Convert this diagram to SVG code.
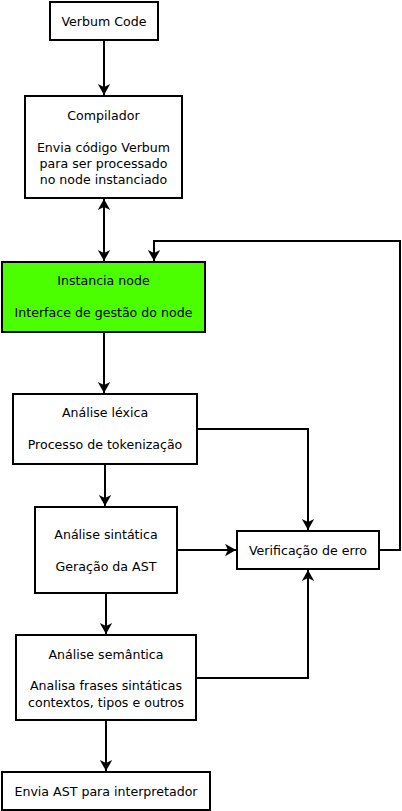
<svg xmlns="http://www.w3.org/2000/svg" width="402" height="811" viewBox="0 0 402 811">
<style>
.box{fill:#fff;stroke:#000;stroke-width:2}
.green{fill:#4cff00}
text{font-family:"DejaVu Sans",sans-serif;font-size:12.6px;fill:#000;text-anchor:middle}
.c{fill:none;stroke:#000;stroke-width:2}
</style>
<defs>
<marker id="arr" markerUnits="userSpaceOnUse" markerWidth="14" markerHeight="14" viewBox="0 0 14 14" refX="11" refY="7" orient="auto-start-reverse">
<path d="M0,0.8 L11,7 L0,13.2 L3,7 z" fill="#000"/>
</marker>
</defs>
<rect width="402" height="811" fill="#fff"/>
<g id="connectors">
<path class="c" d="M104,40 V95" marker-end="url(#arr)"/>
<path class="c" d="M104,199 V261" marker-start="url(#arr)" marker-end="url(#arr)"/>
<path class="c" d="M104,332 V393" marker-end="url(#arr)"/>
<path class="c" d="M105,464 V506" marker-end="url(#arr)"/>
<path class="c" d="M106,593 V634" marker-end="url(#arr)"/>
<path class="c" d="M106,720 V771" marker-end="url(#arr)"/>
<path class="c" d="M197,429 H308 V530" marker-end="url(#arr)"/>
<path class="c" d="M177,550 H236" marker-end="url(#arr)"/>
<path class="c" d="M196,678 H308 V570" marker-end="url(#arr)"/>
<path class="c" d="M379,550 H400 V241 H154 V261" marker-end="url(#arr)"/>
</g>
<g id="verbum-code">
<rect class="box" x="50" y="2" width="108" height="38"/>
<text x="104" y="25.5">Verbum Code</text>
</g>
<g id="compilador">
<rect class="box" x="25" y="96" width="157" height="102"/>
<text x="103.5" y="119.5">Compilador</text>
<text x="103.5" y="151.5">Envia código Verbum</text>
<text x="103.5" y="167.5">para ser processado</text>
<text x="103.5" y="183.5">no node instanciado</text>
</g>
<g id="instancia-node">
<rect class="box green" x="2" y="262" width="203" height="70"/>
<text x="103.5" y="285">Instancia node</text>
<text x="103.5" y="316.5">Interface de gestão do node</text>
</g>
<g id="analise-lexica">
<rect class="box" x="13" y="394" width="184" height="70"/>
<text x="105" y="417">Análise léxica</text>
<text x="105" y="448.5">Processo de tokenização</text>
</g>
<g id="analise-sintatica">
<rect class="box" x="35" y="507" width="142" height="86"/>
<text x="106" y="538.5">Análise sintática</text>
<text x="106" y="570.5">Geração da AST</text>
</g>
<g id="verificacao-erro">
<rect class="box" x="237" y="531" width="142" height="38"/>
<text x="308" y="554.5">Verificação de erro</text>
</g>
<g id="analise-semantica">
<rect class="box" x="16" y="635" width="180" height="85"/>
<text x="106" y="658.5">Análise semântica</text>
<text x="106" y="690">Analisa frases sintáticas</text>
<text x="106" y="706.5">contextos, tipos e outros</text>
</g>
<g id="envia-ast">
<rect class="box" x="2" y="772" width="208" height="38"/>
<text x="106" y="796">Envia AST para interpretador</text>
</g>
</svg>
